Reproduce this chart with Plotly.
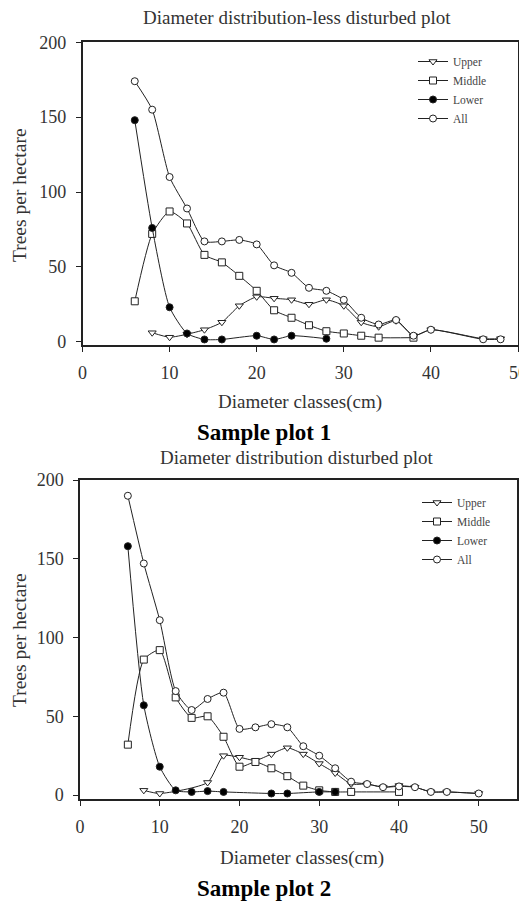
import plotly.graph_objects as go

# ---------------- data: Sample plot 1 (less disturbed) ----------------
p1_upper_x = [8, 10, 12, 14, 16, 18, 20, 22, 24, 26, 28, 30, 32, 34, 36, 38, 40, 46, 48]
p1_upper_y = [6, 3, 5, 8, 13, 24, 30, 29, 28, 25, 28, 24, 13, 10, 14, 4, 8, 2, 2]
p1_middle_x = [6, 8, 10, 12, 14, 16, 18, 20, 22, 24, 26, 28, 30, 32, 34, 38]
p1_middle_y = [27, 72, 87, 79, 58, 53, 44, 34, 21, 16, 11, 7, 5.5, 4, 2.7, 2.7]
p1_lower_x = [6, 8, 10, 12, 14, 16, 20, 22, 24, 28]
p1_lower_y = [148, 76, 23, 5.5, 1.5, 1.5, 4, 1.5, 4, 2]
p1_all_x = [6, 8, 10, 12, 14, 16, 18, 20, 22, 24, 26, 28, 30, 32, 34, 36, 38, 40, 46, 48]
p1_all_y = [174, 155, 110, 89, 67, 67, 68, 65, 51, 46, 36, 34, 28, 16, 11.5, 14.5, 4, 8, 1.6, 1.6]

# ---------------- data: Sample plot 2 (disturbed) ----------------
p2_upper_x = [8, 10, 16, 18, 20, 22, 24, 26, 28, 30, 32, 34, 36, 38, 40, 42, 44, 46, 50]
p2_upper_y = [3, 1, 8, 25, 24, 22, 26, 30, 26, 20, 14, 7, 7, 5, 6, 5, 2, 2, 1]
p2_middle_x = [6, 8, 10, 12, 14, 16, 18, 20, 22, 24, 26, 28, 30, 32, 34, 40]
p2_middle_y = [32, 86, 92, 62, 49, 50, 37, 18, 21, 17, 12, 6, 3, 2, 2, 2]
p2_lower_x = [6, 8, 10, 12, 14, 16, 18, 24, 26, 30, 32]
p2_lower_y = [158, 57, 18, 3, 2, 2.5, 2, 1, 1, 2, 2]
p2_all_x = [6, 8, 10, 12, 14, 16, 18, 20, 22, 24, 26, 28, 30, 32, 34, 36, 38, 40, 42, 44, 46, 50]
p2_all_y = [190, 147, 111, 66, 54, 61, 65, 42, 43, 45, 43, 31, 25, 17, 8.5, 7, 5, 5.5, 5, 2, 2, 1]

series_names = ["Upper", "Middle", "Lower", "All"]
x_ticks = [0, 10, 20, 30, 40, 50]
y_ticks = [0, 50, 100, 150, 200]

FONT = "Liberation Serif"
PAGE_W, PAGE_H = 527, 902
OFF = 8  # default body margin of the html page
W, H = PAGE_W - OFF, PAGE_H - OFF  # figure reaches the right/bottom edge of the window

def px_x(p):
    return (p - OFF) / W

def px_y(p):
    return 1 - (p - OFF) / H

styles = {
    "Upper": dict(symbol="triangle-down", size=7, color="white"),
    "Middle": dict(symbol="square", size=7, color="white"),
    "Lower": dict(symbol="circle", size=7, color="black"),
    "All": dict(symbol="circle", size=7, color="white"),
}

fig = go.Figure()

def add_series(xs, ys, name, xa, ya, legend):
    st = styles[name]
    fig.add_trace(go.Scatter(
        x=xs, y=ys, name=name, mode="lines+markers",
        xaxis=xa, yaxis=ya, legend=legend,
        line=dict(color="#222", width=1, shape="spline", smoothing=0.6),
        marker=dict(symbol=st["symbol"], size=st["size"], color=st["color"],
                    line=dict(color="#222", width=1)),
    ))

p1 = [(p1_upper_x, p1_upper_y), (p1_middle_x, p1_middle_y), (p1_lower_x, p1_lower_y), (p1_all_x, p1_all_y)]
p2 = [(p2_upper_x, p2_upper_y), (p2_middle_x, p2_middle_y), (p2_lower_x, p2_lower_y), (p2_all_x, p2_all_y)]
for (xs, ys), n in zip(p1, series_names):
    add_series(xs, ys, n, "x", "y", "legend")
for (xs, ys), n in zip(p2, series_names):
    add_series(xs, ys, n, "x2", "y2", "legend2")

axis_common = dict(
    showgrid=False, zeroline=False, showline=True, linecolor="#222", linewidth=1.5,
    mirror=True, ticks="outside", ticklen=5, tickcolor="#222", automargin=False,
    tickfont=dict(family=FONT, size=18, color="#333"),
)

legend_common = dict(xanchor="left", yanchor="top", bgcolor="rgba(0,0,0,0)",
                     font=dict(family=FONT, size=11.5, color="#444"),
                     itemwidth=30, tracegroupgap=0, borderwidth=0)

fig.update_layout(
    width=W, height=H,
    margin=dict(l=0, r=0, t=0, b=0, pad=0, autoexpand=False),
    paper_bgcolor="white", plot_bgcolor="white",
    font=dict(family=FONT, color="#333"),
    xaxis=dict(domain=[px_x(82.5), px_x(518)], range=[0, 50], anchor="y",
               tickvals=x_ticks, ticklabelstandoff=6, **axis_common),
    yaxis=dict(domain=[px_y(345), px_y(42)], range=[-2.2, 200.2], anchor="x",
               tickvals=y_ticks, ticklabelstandoff=6, **axis_common),
    xaxis2=dict(domain=[px_x(80), px_x(517)], range=[0, 54.8], anchor="y2",
                tickvals=x_ticks, ticklabelstandoff=6, **axis_common),
    yaxis2=dict(domain=[px_y(799), px_y(480)], range=[-2.5, 200], anchor="x2",
                tickvals=y_ticks, ticklabelstandoff=6, **axis_common),
    legend=dict(x=px_x(413), y=px_y(47), **legend_common),
    legend2=dict(x=px_x(417), y=px_y(488), **legend_common),
    showlegend=True,
)

annotations = [
    dict(text="Diameter distribution-less disturbed plot", x=px_x(297), y=px_y(18)),
    dict(text="Diameter classes(cm)", x=px_x(300), y=px_y(402)),
    dict(text="<b>Sample plot 1</b>", x=px_x(264), y=px_y(432), size=23, color="black"),
    dict(text="Diameter distribution disturbed plot", x=px_x(297), y=px_y(457)),
    dict(text="Diameter classes(cm)", x=px_x(302), y=px_y(858)),
    dict(text="<b>Sample plot 2</b>", x=px_x(264), y=px_y(888), size=23, color="black"),
]
for a in annotations:
    fig.add_annotation(
        text=a["text"], x=a["x"], y=a["y"], xref="paper", yref="paper",
        xanchor="center", yanchor="middle", showarrow=False,
        font=dict(family=FONT, size=a.get("size", 19), color=a.get("color", "#333")),
    )
for yc in (195, 640):
    fig.add_annotation(
        text="Trees per hectare", x=px_x(19), y=px_y(yc), xref="paper", yref="paper",
        xanchor="center", yanchor="middle", showarrow=False, textangle=-90,
        font=dict(family=FONT, size=19.5, color="#333"),
    )

fig.write_html("out.html")
